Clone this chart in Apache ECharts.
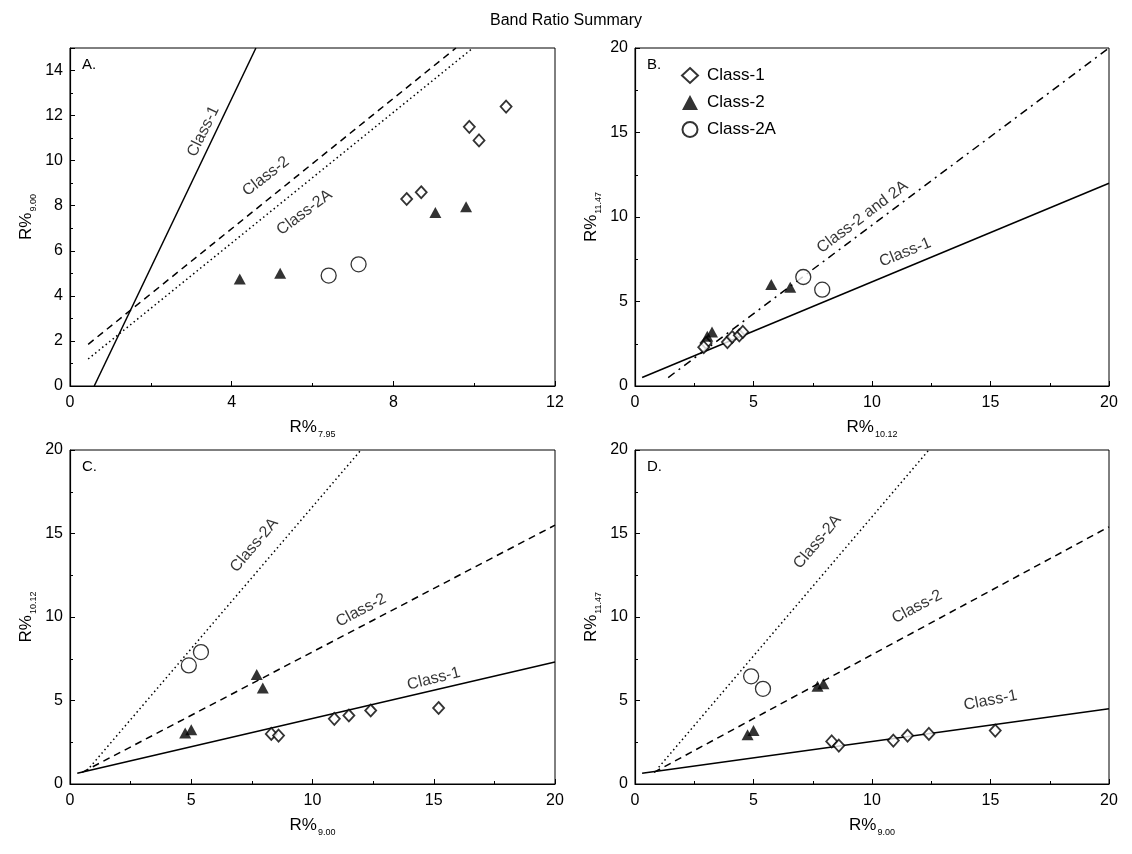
<!DOCTYPE html>
<html>
<head>
<meta charset="utf-8">
<title>Band Ratio Summary</title>
<script src="https://cdn.jsdelivr.net/npm/echarts@6/dist/echarts.min.js"></script>
</head>
<body style="margin:0;padding:0;background:#fff;">
<div id="main" style="width:1132px;height:854px;"></div>
<script>
// sample values, one entry per sample
var class1_r795  = [8.33, 8.69, 10.12, 9.88, 10.79, null];
var class1_r900  = [8.3, 8.6, 10.9, 11.5, 12.4, 15.2];
var class1_r1012 = [3.0, 2.9, 3.9, 4.1, 4.4, 4.55];
var class1_r1147 = [2.55, 2.3, 2.6, 2.9, 3.0, 3.2];

var class2_r795  = [4.2, 5.2, 9.04, 9.8];
var class2_r900  = [4.75, 5.0, 7.7, 7.95];
var class2_r1012 = [3.05, 3.25, 6.55, 5.75];
var class2_r1147 = [2.95, 3.2, 5.85, 6.0];

var class2a_r795  = [6.4, 7.14];
var class2a_r900  = [4.9, 5.4];
var class2a_r1012 = [7.1, 7.9];
var class2a_r1147 = [6.45, 5.7];

// fitted lines (end points)
var fitA_class1  = [[0.6, 0], [4.6, 15]];
var fitA_class2  = [[0.45, 1.85], [9.55, 15]];
var fitA_class2a = [[0.45, 1.2], [9.97, 15]];
var fitB_class1  = [[0.3, 0.5], [20, 12]];
var fitB_class2  = [[1.4, 0.5], [20, 20]];
var fitC_class1  = [[0.3, 0.65], [20, 7.3]];
var fitC_class2  = [[0.5, 0.7], [20, 15.5]];
var fitC_class2a = [[0.7, 0.8], [12.0, 20]];
var fitD_class1  = [[0.3, 0.65], [20, 4.5]];
var fitD_class2  = [[0.8, 0.7], [20, 15.4]];
var fitD_class2a = [[1.0, 1.0], [12.4, 20]];

// line labels: panel, text, x, y, angle
var lineLabels = [
  [0, 'Class-1', 3.3, 11.3, 64],
  [0, 'Class-2', 4.85, 9.3, 38],
  [0, 'Class-2A', 5.8, 7.7, 37],
  [1, 'Class-2 and 2A', 9.6, 10.0, 37],
  [1, 'Class-1', 11.4, 7.9, 22],
  [2, 'Class-2A', 7.6, 14.3, 50],
  [2, 'Class-2', 12.0, 10.4, 28],
  [2, 'Class-1', 15.0, 6.3, 14],
  [3, 'Class-2A', 7.7, 14.5, 50],
  [3, 'Class-2', 11.9, 10.6, 28],
  [3, 'Class-1', 15.0, 5.0, 11]
];

var FONT = 'Liberation Sans, Arial, sans-serif';

var grids = [
  {left: 70, top: 48, width: 485, height: 338},
  {left: 635, top: 48, width: 474, height: 338},
  {left: 70, top: 450, width: 485, height: 334},
  {left: 635, top: 450, width: 474, height: 334}
];
grids.forEach(function (g) {
  g.show = true;
  g.borderColor = '#000';
  g.borderWidth = 1;
  g.backgroundColor = 'transparent';
});

function axis(gi, max, interval, sub, isY) {
  return {
    type: 'value',
    gridIndex: gi,
    min: 0,
    max: max,
    interval: interval,
    name: '{r|R%}{s|' + sub + '}',
    nameLocation: 'middle',
    nameGap: isY ? 32 : 33,
    nameTextStyle: {
      rich: {
        r: {fontSize: 17, color: '#000', fontFamily: FONT, lineHeight: 20, verticalAlign: 'top'},
        s: {fontSize: 9, color: '#000', fontFamily: FONT, lineHeight: 10, verticalAlign: 'top', padding: [11, 0, 0, 1]}
      }
    },
    axisLine: {show: true, onZero: false, lineStyle: {color: '#000', width: 1.2}},
    axisTick: {show: true, inside: true, length: 5, lineStyle: {color: '#000'}},
    minorTick: {show: true, splitNumber: 2, length: 3, lineStyle: {color: '#000'}},
    splitLine: {show: false},
    axisLabel: {
      color: '#000', fontSize: 16, fontFamily: FONT, margin: isY ? 7 : 9,
      showMaxLabel: max % interval === 0
    }
  };
}

var xAxes = [axis(0, 12, 4, '7.95', false), axis(1, 20, 5, '10.12', false),
             axis(2, 20, 5, '9.00', false), axis(3, 20, 5, '9.00', false)];
var yAxes = [axis(0, 15, 2, '9.00', true), axis(1, 20, 5, '11.47', true),
             axis(2, 20, 5, '10.12', true), axis(3, 20, 5, '11.47', true)];

function pairs(xs, ys) {
  var out = [];
  for (var i = 0; i < xs.length; i++) {
    if (xs[i] != null && ys[i] != null) out.push([xs[i], ys[i]]);
  }
  return out;
}

var styles = {
  'Class-1': {symbol: 'diamond', symbolSize: [11, 12], itemStyle: {color: '#fff', borderColor: '#000', borderWidth: 1.8}},
  'Class-2': {symbol: 'triangle', symbolSize: [12, 11], itemStyle: {color: '#000', borderColor: '#000', borderWidth: 0}},
  'Class-2A': {symbol: 'circle', symbolSize: 15, itemStyle: {color: '#fff', borderColor: '#000', borderWidth: 1.3}}
};

function scatter(gi, name, data) {
  var s = styles[name];
  return {
    type: 'scatter', name: name, xAxisIndex: gi, yAxisIndex: gi, z: 5,
    symbol: s.symbol, symbolSize: s.symbolSize, itemStyle: s.itemStyle,
    clip: true, data: data
  };
}

var DASH = [7, 5], DOT = [1.5, 3], DASHDOT = [8, 5, 2, 5];

function fit(gi, data, type) {
  return {
    type: 'line', name: 'fit', xAxisIndex: gi, yAxisIndex: gi, z: 3,
    showSymbol: false, symbol: 'none', silent: true, clip: true,
    lineStyle: {color: '#000', width: 1.5, type: type},
    data: data
  };
}

var series = [
  fit(0, fitA_class1, 'solid'), fit(0, fitA_class2, DASH), fit(0, fitA_class2a, DOT),
  fit(1, fitB_class1, 'solid'), fit(1, fitB_class2, DASHDOT),
  fit(2, fitC_class1, 'solid'), fit(2, fitC_class2, DASH), fit(2, fitC_class2a, DOT),
  fit(3, fitD_class1, 'solid'), fit(3, fitD_class2, DASH), fit(3, fitD_class2a, DOT),

  scatter(0, 'Class-1', pairs(class1_r795, class1_r900)),
  scatter(0, 'Class-2', pairs(class2_r795, class2_r900)),
  scatter(0, 'Class-2A', pairs(class2a_r795, class2a_r900)),

  scatter(1, 'Class-1', pairs(class1_r1012, class1_r1147)),
  scatter(1, 'Class-2', pairs(class2_r1012, class2_r1147)),
  scatter(1, 'Class-2A', pairs(class2a_r1012, class2a_r1147)),

  scatter(2, 'Class-1', pairs(class1_r900, class1_r1012)),
  scatter(2, 'Class-2', pairs(class2_r900, class2_r1012)),
  scatter(2, 'Class-2A', pairs(class2a_r900, class2a_r1012)),

  scatter(3, 'Class-1', pairs(class1_r900, class1_r1147)),
  scatter(3, 'Class-2', pairs(class2_r900, class2_r1147)),
  scatter(3, 'Class-2A', pairs(class2a_r900, class2a_r1147))
];

// text along the fitted lines
lineLabels.forEach(function (l) {
  series.push({
    type: 'scatter', name: 'label', xAxisIndex: l[0], yAxisIndex: l[0], z: 6,
    symbolSize: 0, silent: true,
    data: [[l[2], l[3]]],
    label: {
      show: true, position: 'inside', formatter: l[1], rotate: l[4],
      color: '#000', fontSize: 16, fontFamily: FONT
    }
  });
});

var letters = ['A.', 'B.', 'C.', 'D.'];
var graphics = letters.map(function (t, i) {
  return {
    type: 'text', left: grids[i].left + 12, top: grids[i].top + 9,
    style: {text: t, fontSize: 15, fontFamily: FONT, fill: '#000'}
  };
});

var myChart = echarts.init(document.getElementById('main'));
myChart.setOption({
  backgroundColor: '#fff',
  animation: false,
  title: {
    text: 'Band Ratio Summary', left: 'center', top: 8,
    textStyle: {fontSize: 16, fontWeight: 'normal', color: '#000', fontFamily: FONT}
  },
  legend: {
    data: ['Class-1', 'Class-2', 'Class-2A'],
    orient: 'vertical', left: 676, top: 62, itemGap: 10,
    itemWidth: 16, itemHeight: 15, selectedMode: false,
    textStyle: {fontSize: 17, color: '#000', fontFamily: FONT, padding: [0, 0, 0, 4]}
  },
  grid: grids,
  xAxis: xAxes,
  yAxis: yAxes,
  series: series,
  graphic: graphics
});
</script>
</body>
</html>
